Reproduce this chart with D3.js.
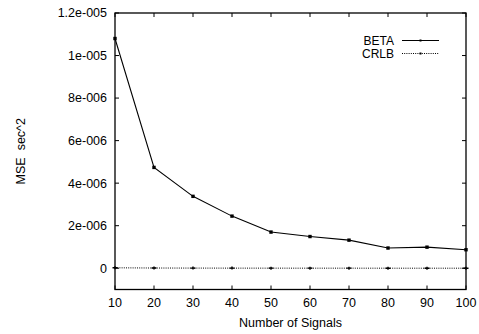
<!DOCTYPE html>
<html><head><meta charset="utf-8">
<script src="https://cdn.jsdelivr.net/npm/d3@7"></script>
<style>
html,body{margin:0;padding:0;background:#fff;}
svg text{font-family:"Liberation Sans",Arial,Helvetica,sans-serif;fill:#000;}
</style></head>
<body><svg id="c" width="479" height="334"></svg>
<script>
const signals = [10,20,30,40,50,60,70,80,90,100];
const beta = [1.08e-5,4.74e-6,3.38e-6,2.45e-6,1.70e-6,1.49e-6,1.32e-6,0.95e-6,0.99e-6,0.87e-6];
const crlb = [2.0e-8,1.0e-8,7e-9,5e-9,4e-9,3e-9,3e-9,2e-9,2e-9,2e-9];
const yTicks = [0,2e-6,4e-6,6e-6,8e-6,1e-5,1.2e-5];
const yTickLabels = ["0","2e-006","4e-006","6e-006","8e-006","1e-005","1.2e-005"];
const xTicks = [10,20,30,40,50,60,70,80,90,100];
const seriesNames = ["BETA","CRLB"];

const svg = d3.select("#c");
const L=115,R=466,T=13,B=289.5;
const x = d3.scaleLinear().domain([10,100]).range([L,R]);
const y = d3.scaleLinear().domain([-1e-6,1.2e-5]).range([B,T]);
const fs = 12.5;

// Frame
svg.append("rect").attr("x",L).attr("y",T).attr("width",R-L).attr("height",B-T)
  .attr("fill","none").attr("stroke","#000").attr("stroke-width",1.3);

// Axes (inside ticks, mirrored)
const ax = svg.append("g");
const tl = 4;
yTicks.forEach((v,i)=>{
  const yy=y(v);
  ax.append("line").attr("x1",L).attr("x2",L+tl).attr("y1",yy).attr("y2",yy).attr("stroke","#000");
  ax.append("line").attr("x1",R).attr("x2",R-tl).attr("y1",yy).attr("y2",yy).attr("stroke","#000");
  ax.append("text").attr("x",L-8).attr("y",yy).attr("dy","0.35em").attr("text-anchor","end")
    .attr("font-size",fs).text(yTickLabels[i]);
});
xTicks.forEach(v=>{
  const xx=x(v);
  ax.append("line").attr("x1",xx).attr("x2",xx).attr("y1",B).attr("y2",B-tl).attr("stroke","#000");
  ax.append("line").attr("x1",xx).attr("x2",xx).attr("y1",T).attr("y2",T+tl).attr("stroke","#000");
  ax.append("text").attr("x",xx).attr("y",B+17).attr("text-anchor","middle")
    .attr("font-size",fs).text(v);
});

// Axis labels
svg.append("text").attr("x",(L+R)/2).attr("y",327).attr("text-anchor","middle")
  .attr("font-size",fs).text("Number of Signals");
svg.append("text").attr("transform","translate(21,"+((T+B)/2)+") rotate(-90)")
  .attr("text-anchor","middle").attr("font-size",fs).attr("dy","0.35em")
  .text("MSE  sec^2").attr("xml:space","preserve").style("white-space","pre");

const line = d3.line().x((d,i)=>x(signals[i])).y(d=>y(d));
// BETA
svg.append("path").datum(beta).attr("d",line).attr("fill","none").attr("stroke","#000").attr("stroke-width",1.1);
svg.selectAll(".pb").data(beta).enter().append("rect")
  .attr("x",(d,i)=>x(signals[i])-1.7).attr("y",d=>y(d)-1.7).attr("width",3.4).attr("height",3.4).attr("fill","#000");
// CRLB
svg.append("path").datum(crlb).attr("d",line).attr("fill","none").attr("stroke","#000")
  .attr("stroke-width",1).attr("stroke-dasharray","1,1.2");
svg.selectAll(".pc").data(crlb).enter().append("path")
  .attr("d",(d,i)=>{const cx=x(signals[i]),cy=y(d);return `M${cx-2.5},${cy}H${cx+2.5}M${cx},${cy-1.5}V${cy+1.5}`;})
  .attr("stroke","#000").attr("stroke-width",1.4);

// Legend
const lg = svg.append("g");
[[seriesNames[0],40.5,null],[seriesNames[1],53.5,"1,1.2"]].forEach(([name,yy,dash])=>{
  lg.append("text").attr("x",394).attr("y",yy).attr("dy","0.35em").attr("text-anchor","end")
    .attr("font-size",12).text(name);
  const l=lg.append("line").attr("x1",402).attr("x2",439).attr("y1",yy).attr("y2",yy)
    .attr("stroke","#000").attr("stroke-width",dash?1:1.1);
  if(dash) l.attr("stroke-dasharray",dash);
  lg.append("rect").attr("x",419.5).attr("y",yy-1).attr("width",2).attr("height",2).attr("fill","#000");
});
</script></body></html>
